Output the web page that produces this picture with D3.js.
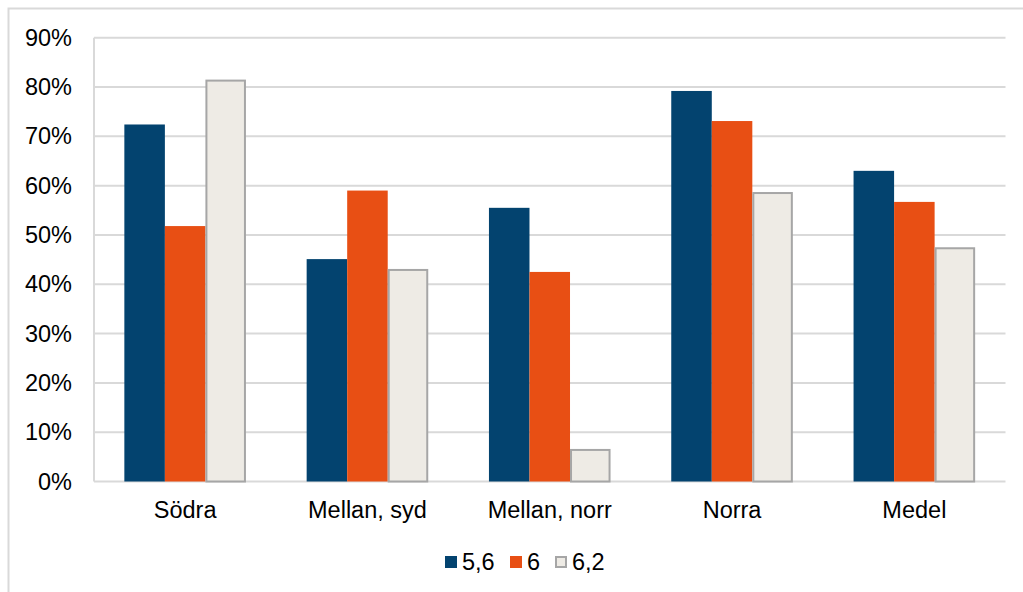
<!DOCTYPE html>
<html><head><meta charset="utf-8">
<script src="https://cdn.jsdelivr.net/npm/d3@7"></script>
<style>body{margin:0;background:#fff;}svg{display:block;font-family:"Liberation Sans",Arial,sans-serif;}</style>
</head><body>
<svg id="c" width="1023" height="592"></svg>
<script>
const categories = ["Södra", "Mellan, syd", "Mellan, norr", "Norra", "Medel"];
const seriesNames = ["5,6", "6", "6,2"];
const s56 = [0.724, 0.451, 0.555, 0.792, 0.630];
const s6 = [0.518, 0.590, 0.425, 0.731, 0.567];
const s62 = [0.813, 0.429, 0.064, 0.585, 0.473];
const yTicks = [0, 0.1, 0.2, 0.3, 0.4, 0.5, 0.6, 0.7, 0.8, 0.9];
const colors = ["#03436f", "#e84f14", "#eeebe5"];
const strokes = ["none", "none", "#a6a6a6"];
const FS = 23.5;

const svg = d3.select("#c");
svg.append("rect").attr("x", 8.5).attr("y", 8.5).attr("width", 1030).attr("height", 600)
  .attr("fill", "none").attr("stroke", "#d9d9d9").attr("stroke-width", 2);

const L = 94, R = 1005.5, T = 37.7, B = 481.5;
const x0 = d3.scaleBand().domain(categories).range([L, R]).paddingInner(0.333).paddingOuter(0.1665);
const x1 = d3.scaleBand().domain(seriesNames).range([0, x0.bandwidth()]);
const y = d3.scaleLinear().domain([0, 0.9]).range([B, T]);

svg.append("g").selectAll("line").data(yTicks).join("line")
  .attr("x1", L).attr("x2", R).attr("y1", d => y(d)).attr("y2", d => y(d))
  .attr("stroke", "#d9d9d9").attr("stroke-width", 2);
svg.append("line").attr("x1", L).attr("x2", L).attr("y1", T).attr("y2", B)
  .attr("stroke", "#d9d9d9").attr("stroke-width", 2);

const yAxis = d3.axisLeft(y).tickValues(yTicks).tickFormat(d3.format(".0%")).tickSize(0).tickPadding(22);
const ga = svg.append("g").attr("transform", `translate(${L},0)`).call(yAxis);
ga.select(".domain").remove();
ga.selectAll("text").attr("font-size", FS).attr("fill", "#000").attr("font-family", "Liberation Sans, Arial, sans-serif");

const xAxis = d3.axisBottom(x0).tickSize(0).tickPadding(20);
const gx = svg.append("g").attr("transform", `translate(0,${B})`).call(xAxis);
gx.select(".domain").remove();
gx.selectAll("text").attr("font-size", FS).attr("fill", "#000").attr("font-family", "Liberation Sans, Arial, sans-serif");

const series = [s56, s6, s62];
series.forEach((vals, si) => {
  svg.append("g").selectAll("rect").data(vals).join("rect")
    .attr("x", (d, i) => x0(categories[i]) + x1(seriesNames[si]) + (si === 2 ? 1 : 0))
    .attr("y", d => y(d))
    .attr("width", x1.bandwidth() - (si === 2 ? 2 : 0))
    .attr("height", d => B - y(d))
    .attr("fill", colors[si])
    .attr("stroke", strokes[si]).attr("stroke-width", 2);
});

const legX = [445, 510, 555];
const lg = svg.append("g");
seriesNames.forEach((n, i) => {
  lg.append("rect").attr("x", legX[i] + (i === 2 ? 1 : 0)).attr("y", 556 + (i === 2 ? 1 : 0))
    .attr("width", i === 2 ? 10 : 12).attr("height", i === 2 ? 10 : 12)
    .attr("fill", colors[i]).attr("stroke", strokes[i]).attr("stroke-width", 2);
  lg.append("text").attr("x", legX[i] + 17).attr("y", 570).attr("font-size", FS).attr("fill", "#000").text(n);
});
</script>
</body></html>
